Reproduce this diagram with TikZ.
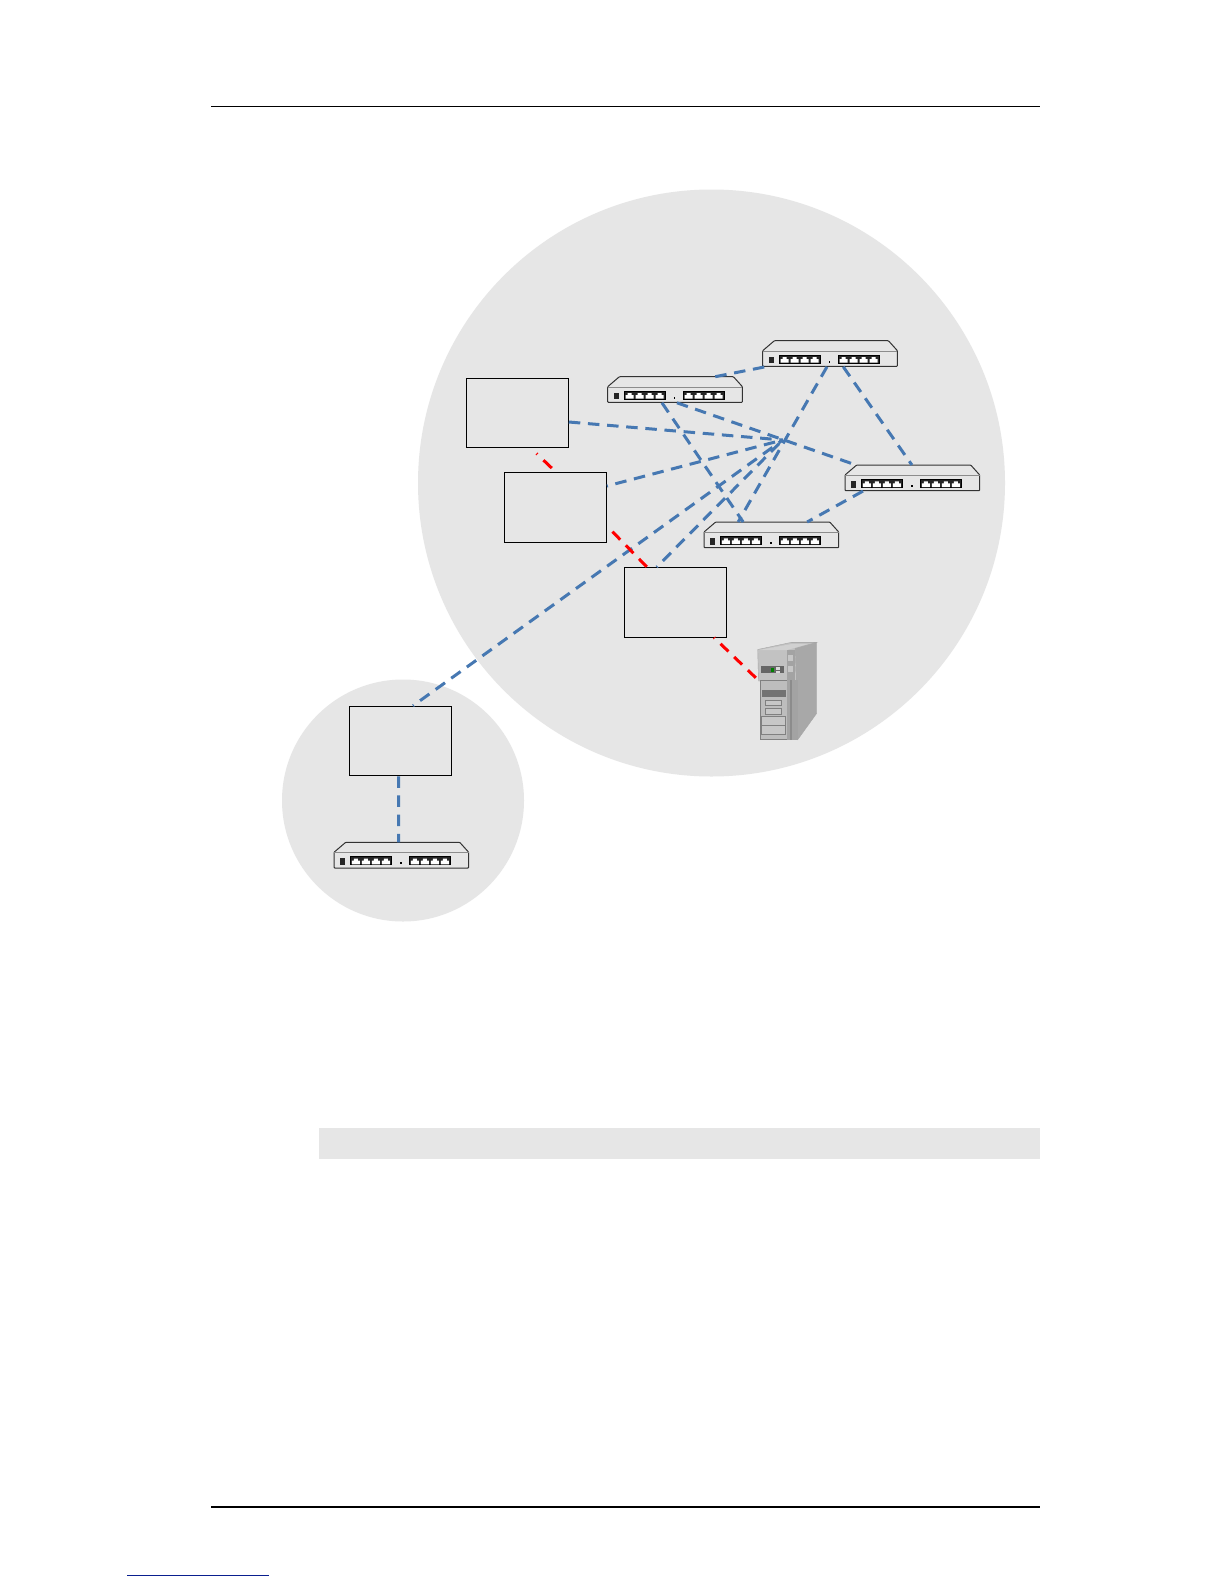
\documentclass[tikz,border=0pt]{standalone}
\usepackage{tikz}

\definecolor{cloudgray}{HTML}{E6E6E6}
\definecolor{linkblue}{HTML}{4678B2}
\definecolor{footblue}{HTML}{0A1F8F}
\tikzset{
  cloud/.style={fill=cloudgray,draw=none},
  hostbox/.style={draw=black,fill=cloudgray,line width=1pt,minimum width=102pt,minimum height=69.5pt,inner sep=0pt},
  swbody/.style={minimum width=134.7pt,minimum height=25.7pt,inner sep=0pt,anchor=north west},
  bluelink/.style={draw=linkblue,line width=3pt,dash pattern=on 11.5pt off 7.7pt},
  redlink/.style={draw=red,line width=3pt,dash pattern=on 11pt off 8pt},
  pagerule/.style={draw=black},
  srvpart/.style={draw=black!50,fill=black!22,line width=0.5pt},
  pics/switch/.style={code={
    \node[swbody] (-body) at (0,0) {};
    \draw[black!80,line width=1pt,fill=cloudgray,rounded corners=0.8pt] (0,10) -- (11.7,0) -- (125.7,0) -- (134.7,10) -- (134.7,25.7) -- (0,25.7) -- cycle;
    \draw[black!45,line width=0.4pt] (0,10) -- (134.7,10);
    \fill[black!85] (6.3,16) rectangle (11.3,22.7);
    \fill[black] (66,20) rectangle (67.5,21.8);
    \foreach \Start in {16.7,75.7} {
      \filldraw[draw=black,fill=black!85,line width=0.9pt] (\Start,14.6) rectangle ++(40.6,8);
      \foreach \Port in {0,1,2,3}
        \fill[white] (\Start+1.2+10*\Port,22) -- ++(0,-3.6) -- ++(2,0) -- ++(0,-2) -- ++(4,0) -- ++(0,2) -- ++(2,0) -- ++(0,3.6) -- cycle;
    }
  }}
}

\begin{document}
\begin{tikzpicture}[x=1pt,y=-1pt]
   \useasboundingbox (0,0) rectangle (1224,1584);
   \fill[white] (0,0) rectangle (1224,1584);
 %% page furniture
   \draw[pagerule,line width=1.2pt] (211,106.4) -- (1040,106.4);
   \draw[pagerule,line width=2pt] (211,1507) -- (1040,1507);
   \draw[footblue,line width=1pt] (127,1575.3) -- (269,1575.3);
   \fill[cloudgray] (319,1128.3) rectangle (1040,1159);
 %% the two areas
   \fill[cloud] (711.5,483) circle (293.5);
   \fill[cloud] (403,800.5) circle (121);

   \coordinate (hub) at (782.7,440);
   \node[hostbox] (boxa) at (517.3,412.8) {};
   \node[hostbox] (boxb) at (555.4,507.3) {};
   \node[hostbox] (boxc) at (675.8,602.3) {};
   \node[hostbox] (boxd) at (400.5,741) {};
   \foreach \Name/\Point in {sw1/{(607.7,376.7)}, sw2/{(762.7,340.7)}, sw3/{(845,465)}, sw4/{(704,522)}, sw5/{(334,842.3)}}
        \pic (\Name) at \Point {switch};
   \node[minimum width=57pt,minimum height=97pt,inner sep=0pt] (server) at (787.5,690.5) {};

 %% blue links
   \path[bluelink] (boxa.east |- 0,422) -- (hub);
   \path[bluelink,dash phase=10.5pt] (boxb.east |- 0,486) -- (hub);
   \path[bluelink,dash phase=10.5pt] ([xshift=-19.1pt]boxc.north) -- (hub);
   \path[bluelink,dash phase=10.5pt] ([xshift=12.5pt]boxd.north) -- (hub);
   \path[bluelink] ([xshift=1.7pt]sw1-body.south) -- ([xshift=-56.6pt]sw3-body.north);
   \path[bluelink] ([xshift=-13.3pt]sw1-body.south) -- ([xshift=-28.4pt]sw4-body.north);
   \path[bluelink] ([xshift=40pt]sw1-body.north) -- ([xshift=-65pt]sw2-body.south);
   \path[bluelink] ([xshift=-3.3pt]sw2-body.south) -- ([xshift=-33.4pt]sw4-body.north);
   \path[bluelink] ([xshift=13pt]sw2-body.south) -- ([xshift=-0.65pt]sw3-body.north);
   \path[bluelink] ([xshift=-49.6pt]sw3-body.south) -- ([xshift=35.6pt]sw4-body.north);
   \path[bluelink] ([xshift=-2pt]boxd.south) -- ([xshift=-2.85pt]sw5-body.north);
 %% red links
   \path[draw=red,line width=3pt,dash pattern=on 0pt off 8pt on 1pt off 8.5pt on 11.5pt off 30pt] ([xshift=13.5pt]boxa.south) -- ([xshift=0.5pt]boxb.north);
   \path[redlink,dash phase=11pt] (boxb.east |- 0,526) -- ([xshift=-28.8pt]boxc.north);
   \path[redlink,dash phase=10pt] ([xshift=38.2pt]boxc.south) -- (server.west |- 0,680.7);

 %% the server
   \filldraw[draw=black!35,fill=black!34] (791.7,642.3) -- (816.7,642.3) -- (816.7,713.3) -- (797.7,739.7) -- (795,648) -- cycle;
   \filldraw[draw=black!35,fill=black!24] (757.7,649.5) -- (791.7,642.3) -- (816.7,642.3) -- (795,648.5) -- (795,681) -- (758.5,681) -- cycle;
   \fill[black!18] (759,650) -- (791.7,644) -- (808,644) -- (787,650) -- cycle;
   \filldraw[srvpart,fill=black!26] (760.7,680) rectangle (797.7,739.7);
   \fill[black!36] (787,650) rectangle (795,680);
   \fill[black!36] (787,680) rectangle (797.7,739.7);
   \fill[black!22] (788,655) rectangle (793,661);
   \fill[black!22] (788,666) rectangle (793,672);
   \fill[black!45] (790,680) rectangle (791.5,739.7);
   \fill[black!60] (760.7,665.7) rectangle (784.3,673.3);
   \fill[green!50!black] (771,667.5) rectangle (774,671.5);
   \fill[white!85!black] (776,667) rectangle (780,669.5);
   \fill[white!85!black] (776,670.5) rectangle (780,673);
   \fill[black!55] (761.7,690) rectangle (785.7,696.7);
   \filldraw[srvpart] (765.7,700) rectangle (781.7,705);
   \filldraw[srvpart] (765.7,708.3) rectangle (781.7,714.3);
   \filldraw[srvpart] (761.7,716.7) rectangle (785.7,725);
   \filldraw[srvpart] (761.7,725.7) rectangle (785.7,734.3);
\end{tikzpicture}
\end{document}
